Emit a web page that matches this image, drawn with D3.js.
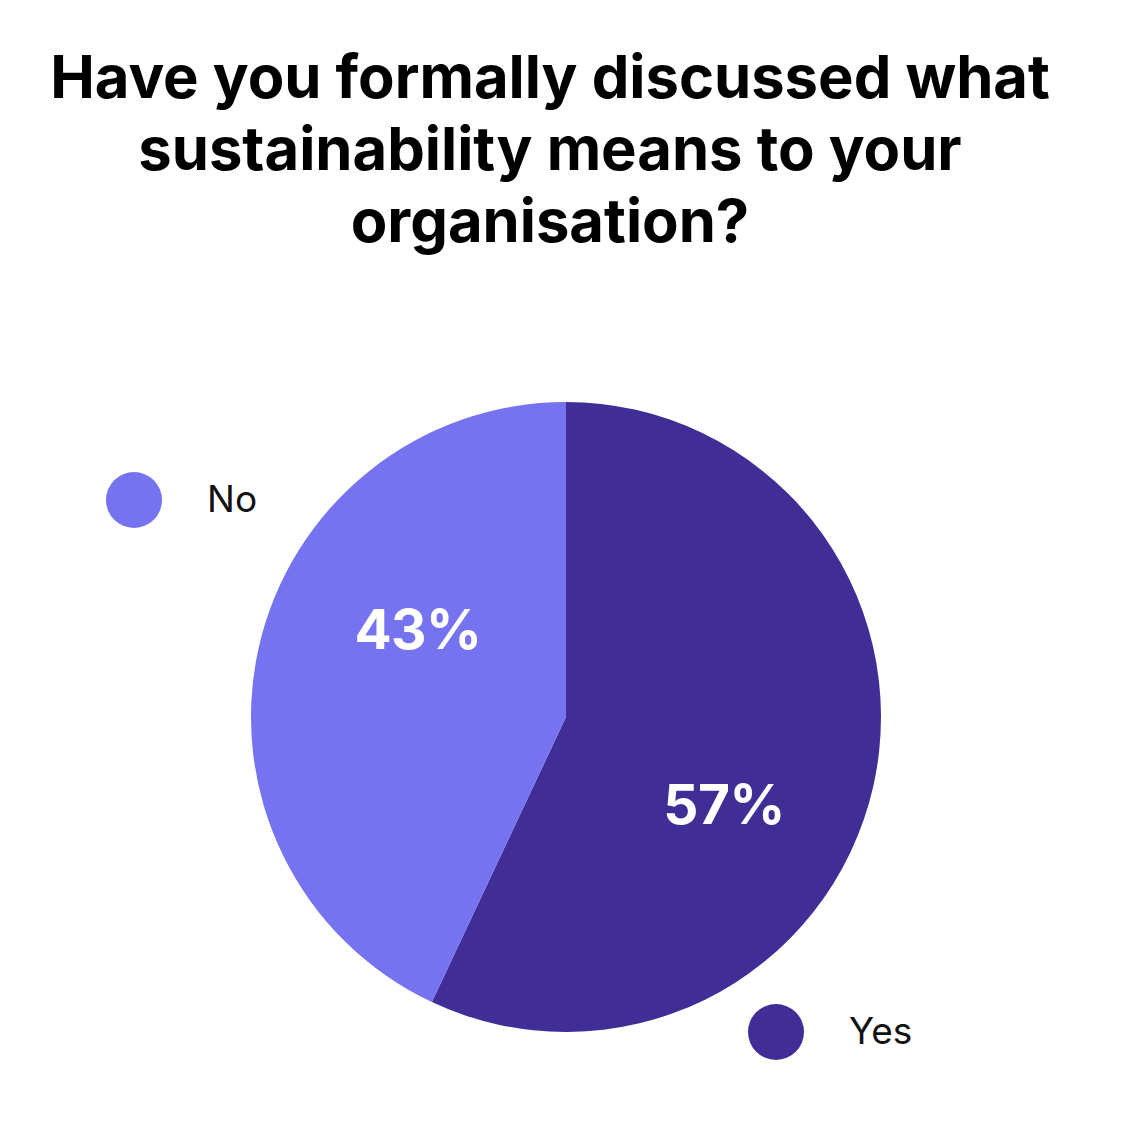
<!DOCTYPE html>
<html><head><meta charset="utf-8">
<script src="https://cdn.jsdelivr.net/npm/d3@7"></script>
<style>html,body{margin:0;padding:0;background:#fff;}svg{display:block;}text{font-variant-ligatures:none;}</style>
</head><body>
<script>
const titleLines = ["Have you formally discussed what", "sustainability means to your", "organisation?"];
const categories = ["Yes", "No"];
const values = [57, 43];
const colors = ["#402e96", "#7673f0"];
const legendItems = ["No", "Yes"];

const W = 1128, H = 1132;
const svg = d3.select("body").append("svg").attr("width", W).attr("height", H);
svg.append("rect").attr("width", W).attr("height", H).attr("fill", "#fff");

const font = "Inter, 'Open Sans', sans-serif";
const title = svg.append("g").selectAll("text").data(titleLines).join("text")
  .attr("x", 550).attr("y", (d, i) => 98 + i * 72)
  .attr("text-anchor", "middle")
  .attr("font-family", font).attr("font-weight", 700).attr("font-size", 58)
  .attr("fill", "#000").text(d => d);
const w0 = title.nodes()[0].getComputedTextLength();
const fs = Math.min(62, 58 * 1000 / w0);
title.attr("font-size", fs);

const cx = 566, cy = 717, R = 315;
const color = d3.scaleOrdinal().domain(categories).range(colors);
const pie = d3.pie().sort(null).value(d => d.v);
const data = categories.map((c, i) => ({ c, v: values[i] }));
const arcs = pie(data);
const arc = d3.arc().innerRadius(0).outerRadius(R);
const g = svg.append("g").attr("transform", `translate(${cx},${cy})`);
g.selectAll("path").data(arcs).join("path").attr("d", arc).attr("fill", d => color(d.data.c));

const labelOffset = 0.3;
const labelArc = d3.arc().innerRadius(R * 0.56).outerRadius(R * 0.56);
g.selectAll("text").data(arcs).join("text")
  .attr("transform", d => {
    const p = labelArc.centroid({ startAngle: d.startAngle + labelOffset, endAngle: d.endAngle + labelOffset });
    return `translate(${p[0] + 5},${p[1]})`;
  })
  .attr("text-anchor", "middle").attr("dy", "0.36em")
  .attr("font-family", font).attr("font-weight", 700).attr("font-size", 55)
  .attr("letter-spacing", -0.5)
  .attr("fill", "#fff").text(d => d.data.v + "%");

const legendPos = { No: [134, 500], Yes: [776, 1032] };
const lg = svg.append("g").selectAll("g").data(legendItems).join("g")
  .attr("transform", d => `translate(${legendPos[d][0]},${legendPos[d][1]})`);
lg.append("circle").attr("r", 28).attr("fill", d => color(d));
lg.append("text").attr("x", 73).attr("dy", "0.33em")
  .attr("font-family", font).attr("font-size", 37).attr("fill", "#111").text(d => d);
</script>
</body></html>
